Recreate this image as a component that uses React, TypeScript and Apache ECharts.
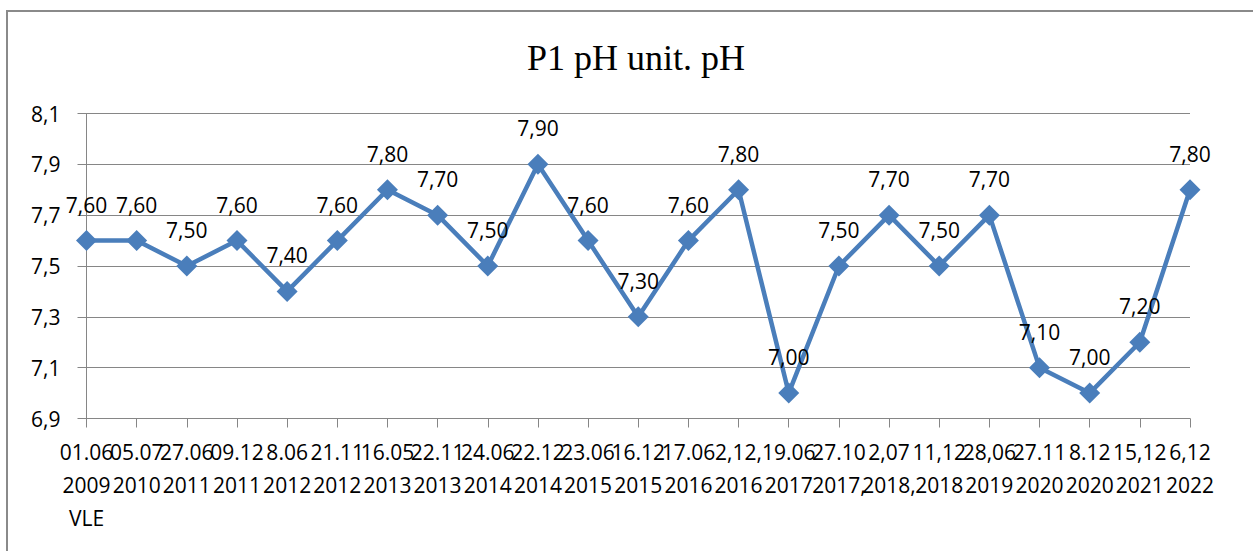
import React, { useEffect, useRef } from "react";
import * as echarts from "echarts";

const title = "P1 pH unit. pH";

const categories: string[] = [
  "01.06\n2009\nVLE",
  "05.07\n2010",
  "27.06\n2011",
  "09.12\n2011",
  "8.06\n2012",
  "21.11\n2012",
  "16.05\n2013",
  "22.11\n2013",
  "24.06\n2014",
  "22.12\n2014",
  "23.06\n2015",
  "16.12\n2015",
  "17.06\n2016",
  "2,12,\n2016",
  "19.06\n2017",
  "27.10\n2017,",
  "2,07\n2018,",
  "11,12\n2018",
  "28,06\n2019",
  "27.11\n2020",
  "8.12\n2020",
  "15,12\n2021",
  "6,12\n2022",
];

const phValues: number[] = [
  7.6, 7.6, 7.5, 7.6, 7.4, 7.6, 7.8, 7.7, 7.5, 7.9, 7.6, 7.3, 7.6, 7.8, 7.0,
  7.5, 7.7, 7.5, 7.7, 7.1, 7.0, 7.2, 7.8,
];

// axis range 6.9 .. 8.1 step 0.2 (plotted as offset from the base so ticks start at 6.9)
const axisBase = 6.9;
const axisTop = 8.1;
const axisStep = 0.2;

const fmt = (v: number, d: number) => v.toFixed(d).replace(".", ",");

export default function App() {
  const ref = useRef<HTMLDivElement>(null);
  useEffect(() => {
    document.body.style.margin = "0";
    if (!ref.current) return;
    const chart = echarts.init(ref.current, null, { renderer: "svg" });
    const font = "'Open Sans', sans-serif";
    chart.setOption({
      animation: false,
      backgroundColor: "#ffffff",
      title: {
        text: title,
        left: 631,
        textAlign: "center",
        top: 35,
        textStyle: {
          fontFamily: "'Liberation Serif', serif",
          fontSize: 36,
          fontWeight: "normal",
          color: "#000",
        },
      },
      graphic: [
        {
          type: "rect",
          shape: { x: 7, y: 11, width: 1300, height: 600 },
          style: { fill: "none", stroke: "#8a8a8a", lineWidth: 2 },
          silent: true,
        },
      ],
      grid: { left: 86.5, right: 63, top: 113.5, bottom: 132.5, containLabel: false },
      xAxis: {
        type: "category",
        data: categories,
        boundaryGap: false,
        axisLine: { lineStyle: { color: "#868686", width: 1 } },
        axisTick: {
          show: true,
          inside: false,
          length: 9,
          alignWithLabel: true,
          lineStyle: { color: "#868686" },
        },
        axisLabel: {
          interval: 0,
          margin: 17,
          fontFamily: font,
          fontSize: 21,
          lineHeight: 33,
          color: "#000",
          hideOverlap: false,
        },
        splitLine: { show: false },
      },
      yAxis: {
        type: "value",
        min: 0,
        max: +(axisTop - axisBase).toFixed(1),
        interval: axisStep,
        axisLine: { show: true, lineStyle: { color: "#868686", width: 1 } },
        axisTick: { show: true, length: 9, lineStyle: { color: "#868686" } },
        axisLabel: {
          margin: 26,
          fontFamily: font,
          fontSize: 21,
          color: "#000",
          formatter: (v: number) => fmt(v + axisBase, 1),
        },
        splitLine: { show: true, lineStyle: { color: "#868686", width: 1 } },
      },
      series: [
        {
          type: "line",
          data: phValues.map((v) => +(v - axisBase).toFixed(3)),
          symbol: "diamond",
          symbolSize: 21,
          lineStyle: { color: "#4a7ebb", width: 4.5 },
          itemStyle: { color: "#4a7ebb" },
          label: {
            show: true,
            position: "top",
            distance: 15,
            fontFamily: font,
            fontSize: 21,
            color: "#000",
            formatter: (p: any) => fmt(phValues[p.dataIndex], 2),
          },
        },
      ],
    });
    return () => chart.dispose();
  }, []);
  return <div ref={ref} style={{ width: 1253, height: 551 }} />;
}
